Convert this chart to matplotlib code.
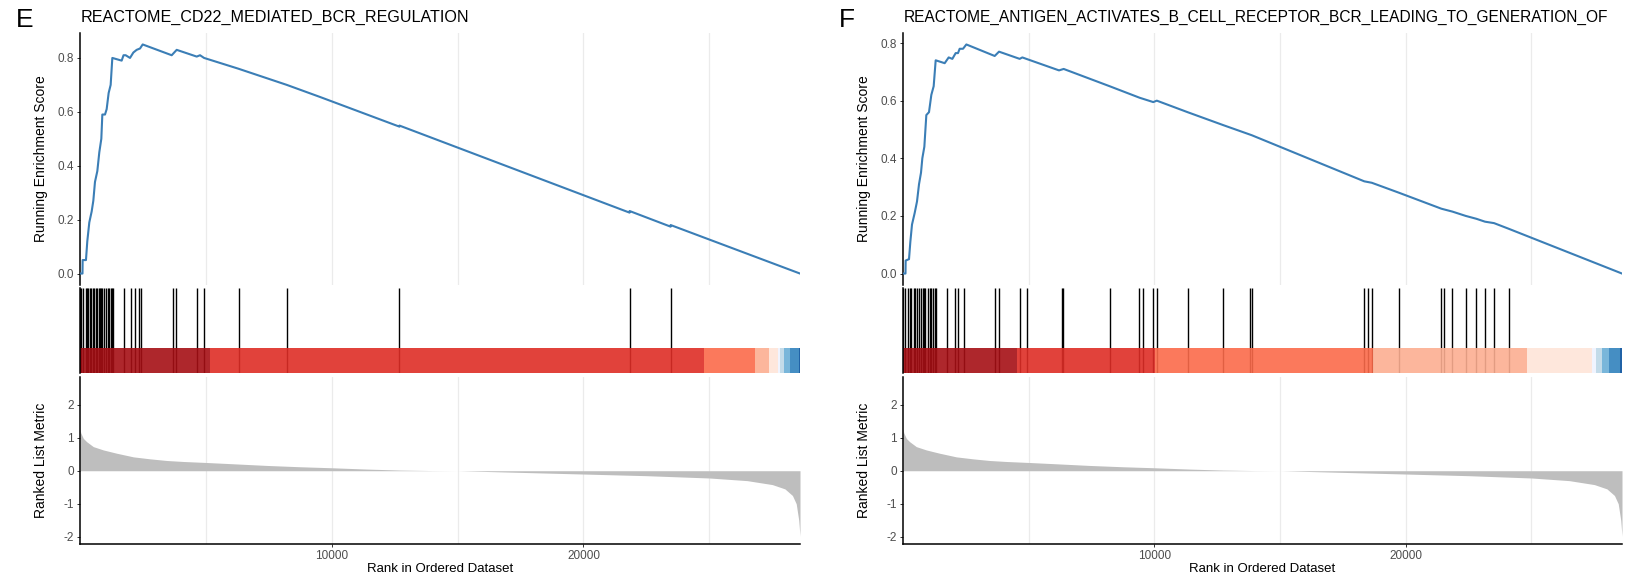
import numpy as np
import matplotlib
matplotlib.use("Agg")
import matplotlib.pyplot as plt

plt.rcParams['font.family'] = ['Liberation Sans', 'DejaVu Sans']

# ---- data ----
N_GENES = 28600

# ranked list metric (shared by both panels)
metric_rank = [1, 30, 133, 265, 530, 928, 1459, 2122, 2785, 3448, 4111, 5013, 6100,
               7427, 8753, 10000, 11400, 12730, 14000, 15000, 16000, 17500, 20000,
               22500, 25000, 26500, 27500, 28000, 28300, 28450, 28550, 28600]
metric_value = [1.28, 1.15, 0.98, 0.88, 0.73, 0.63, 0.53, 0.42, 0.36, 0.31, 0.28, 0.25,
                0.21, 0.16, 0.12, 0.09, 0.05, 0.02, 0.005, 0.0, -0.02, -0.05, -0.10,
                -0.15, -0.22, -0.30, -0.42, -0.55, -0.75, -1.0, -1.5, -1.98]

# panel E
e_title = "REACTOME_CD22_MEDIATED_BCR_REGULATION"
e_es_rank = [1, 100, 106, 238, 291, 371, 464, 530, 596, 689, 768, 848, 888, 994, 1060,
             1139, 1219, 1285, 1656, 1730, 1815, 1987, 2120, 2252, 2385, 2491, 3643,
             3842, 4637, 4769, 4928, 6293, 8214, 9539, 12690, 12691, 21830, 21831,
             23460, 23461, 28600]
e_es_value = [0, 0, 0.05, 0.05, 0.12, 0.19, 0.23, 0.27, 0.34, 0.38, 0.45, 0.50, 0.59,
              0.59, 0.61, 0.67, 0.70, 0.80, 0.79, 0.81, 0.81, 0.80, 0.82, 0.83, 0.835,
              0.85, 0.81, 0.83, 0.805, 0.81, 0.80, 0.76, 0.70, 0.655, 0.545, 0.549,
              0.226, 0.232, 0.174, 0.180, 0.0]
e_hits = [1, 52, 139, 224, 281, 338, 395, 452, 509, 551, 622, 679, 736, 793, 850, 878,
          935, 1049, 1105, 1162, 1219, 1276, 1304, 1730, 2040, 2180, 2350, 2440, 3690,
          3830, 4640, 4920, 6300, 8230, 12690, 21830, 23460]
e_band_edges = [1, 5163, 24770, 26800, 27350, 27710, 27820, 27980, 28190, 28550, 28600]

# panel F
f_title = "REACTOME_ANTIGEN_ACTIVATES_B_CELL_RECEPTOR_BCR_LEADING_TO_GENERATION_OF"
f_es_rank = [1, 100, 107, 240, 293, 359, 465, 558, 638, 717, 770, 850, 929, 1035, 1128,
             1221, 1301, 1659, 1818, 1964, 2096, 2188, 2255, 2388, 2521, 3648, 3820,
             4642, 4748, 4907, 6207, 6392, 8222, 9415, 9956, 10096, 11321, 12741,
             13874, 18349, 18648, 19742, 21416, 21853, 22383, 22808, 23150, 23510,
             24105, 28600]
f_es_value = [0, 0, 0.045, 0.05, 0.11, 0.17, 0.21, 0.25, 0.31, 0.35, 0.40, 0.44, 0.55,
              0.56, 0.62, 0.65, 0.74, 0.73, 0.75, 0.745, 0.765, 0.765, 0.78, 0.78, 0.795,
              0.755, 0.77, 0.745, 0.75, 0.745, 0.705, 0.71, 0.65, 0.61, 0.595, 0.60,
              0.56, 0.515, 0.48, 0.32, 0.315, 0.28, 0.225, 0.215, 0.20, 0.19, 0.18,
              0.175, 0.155, 0.0]
f_hits = [1, 68, 182, 267, 324, 423, 494, 565, 636, 707, 778, 849, 892, 991, 1062, 1133,
          1204, 1275, 1300, 1743, 2056, 2199, 2440, 3664, 3831, 4660, 4941, 6318, 6360,
          8238, 9372, 9559, 9956, 10096, 11321, 12741, 13807, 13874, 18349, 18492,
          18648, 19742, 21416, 21508, 21853, 22383, 22808, 23150, 23510, 24105]
f_band_edges = [1, 4543, 10012, 18680, 24835, 27408, 27580, 27805, 28083, 28536, 28600]

band_colors = ['#A50F15', '#DE2D26', '#FB6A4A', '#FCAE91', '#FEE5D9',
               '#EFF3FF', '#BDD7E7', '#6BAED6', '#3182BD', '#08519C']

x_ticks = [10000, 20000]
grid_x = [5000, 10000, 15000, 20000, 25000]
es_ticks = [0.0, 0.2, 0.4, 0.6, 0.8]
metric_ticks = [-2, -1, 0, 1, 2]

# ---- layout (pixels) ----
W, H = 1645, 578
fig = plt.figure(figsize=(W / 100, H / 100), dpi=100)


def rect(l, r, t, b):
    return [l / W, 1 - b / H, (r - l) / W, (b - t) / H]


TICK_COLOR = '#4D4D4D'
GRID_COLOR = '#EBEBEB'
LINE_COLOR = '#3B7EB6'


def style_axis(ax):
    for s in ['top', 'right']:
        ax.spines[s].set_visible(False)
    ax.spines['left'].set_linewidth(1.1)
    ax.spines['bottom'].set_linewidth(1.1)
    ax.tick_params(colors='#333333', labelcolor=TICK_COLOR, labelsize=8.5,
                   length=2.5, width=0.7, pad=2)


def draw_panel(left, right, letter, title, title_size, es_rank, es_value, es_top,
               hits, band_edges):
    # running enrichment score
    ax1 = fig.add_axes(rect(left, right, 33, 285))
    style_axis(ax1)
    ax1.spines['bottom'].set_visible(False)
    for g in grid_x:
        ax1.axvline(g, color=GRID_COLOR, lw=0.9, zorder=0)
    ax1.plot(es_rank, es_value, color=LINE_COLOR, lw=1.5, zorder=3)
    ax1.set_xlim(1, N_GENES)
    pad = es_top * 0.05
    ax1.set_ylim(-pad, es_top + pad)
    ax1.set_yticks(es_ticks)
    ax1.set_yticklabels(["%.1f" % v for v in es_ticks])
    ax1.set_xticks([])
    ax1.set_ylabel("Running Enrichment Score", fontsize=10)
    ax1.yaxis.set_label_coords(-0.044, 0.5)

    # hits + colour band
    ax2 = fig.add_axes(rect(left, right, 288, 373))
    style_axis(ax2)
    ax2.spines['bottom'].set_visible(False)
    ax2.vlines(hits, 0, 1, color='black', lw=1.0, zorder=1)
    for i, c in enumerate(band_colors):
        ax2.axvspan(band_edges[i], band_edges[i + 1], ymin=0, ymax=0.3,
                    color=c, alpha=0.9, lw=0, zorder=2)
    ax2.set_xlim(1, N_GENES)
    ax2.set_ylim(0, 1)
    ax2.set_xticks([])
    ax2.set_yticks([])

    # ranked list metric
    ax3 = fig.add_axes(rect(left, right, 377, 544))
    style_axis(ax3)
    for g in grid_x:
        ax3.axvline(g, color=GRID_COLOR, lw=0.9, zorder=0)
    ax3.fill_between(metric_rank, 0, metric_value, color='#BEBEBE', lw=0, zorder=2)
    ax3.set_xlim(1, N_GENES)
    ax3.set_ylim(-2.22, 2.84)
    ax3.set_yticks(metric_ticks)
    ax3.set_yticklabels([str(v) for v in metric_ticks])
    ax3.set_xticks(x_ticks)
    ax3.set_xticklabels([str(v) for v in x_ticks])
    ax3.set_ylabel("Ranked List Metric", fontsize=10)
    ax3.yaxis.set_label_coords(-0.044, 0.5)
    ax3.set_xlabel("Rank in Ordered Dataset", fontsize=9.5, va='center')
    ax3.xaxis.set_label_coords(0.5, -0.148)

    fig.text((left - 64) / W, 1 - 20 / H, letter, fontsize=19, va='center', ha='left')
    fig.text((left + 1) / W, 1 - 17 / H, title, fontsize=title_size, va='center', ha='left')


draw_panel(80, 800, "E", e_title, 11.6, e_es_rank, e_es_value, 0.85, e_hits, e_band_edges)
draw_panel(903, 1622, "F", f_title, 11.2, f_es_rank, f_es_value, 0.795, f_hits, f_band_edges)

fig.savefig("out.png", dpi=100)
